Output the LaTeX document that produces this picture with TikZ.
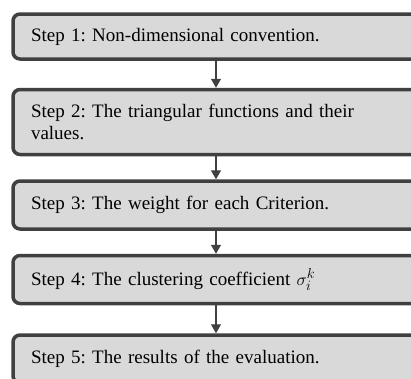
\documentclass[tikz,border=0pt]{standalone}
\usepackage{fontspec}
\setmainfont{Liberation Serif}
\usetikzlibrary{positioning}
\usetikzlibrary{arrows.meta}
\definecolor{boxgray}{RGB}{217,217,217}
\definecolor{edgegray}{RGB}{64,64,64}
\frenchspacing

\begin{document}
\begin{tikzpicture}[x=1pt, y=1pt,
    stepbox/.style={draw=edgegray, fill=boxgray, line width=3.5pt, rounded corners=7pt,
      minimum width=406pt, text width=370pt, inner xsep=18pt, align=left,
      font=\fontsize{19}{22}\selectfont},
    flow/.style={draw=edgegray, line width=1.2pt, -{Triangle[width=10pt,length=9pt]}}]
    \useasboundingbox (0,0) rectangle (411,-378);

    \node[stepbox, minimum height=45pt] (s1) at (216,-36.5) {Step 1: Non-dimensional convention.};
    \node[stepbox, minimum height=65pt, below=27pt of s1] (s2) {Step 2: The triangular functions and their\\values.};
    \node[stepbox, minimum height=48pt, below=23pt of s2] (s3) {Step 3: The weight for each Criterion.};
    \node[stepbox, minimum height=48pt, below=23pt of s3] (s4) {Step 4: The clustering coefficient $\sigma_i^k$};
    \node[stepbox, minimum height=48pt, below=28pt of s4] (s5) {Step 5: The results of the evaluation.};

    \draw[flow] (s1) -- (s2);
    \draw[flow] (s2) -- (s3);
    \draw[flow] (s3) -- (s4);
    \draw[flow] (s4) -- (s5);
\end{tikzpicture}
\end{document}
